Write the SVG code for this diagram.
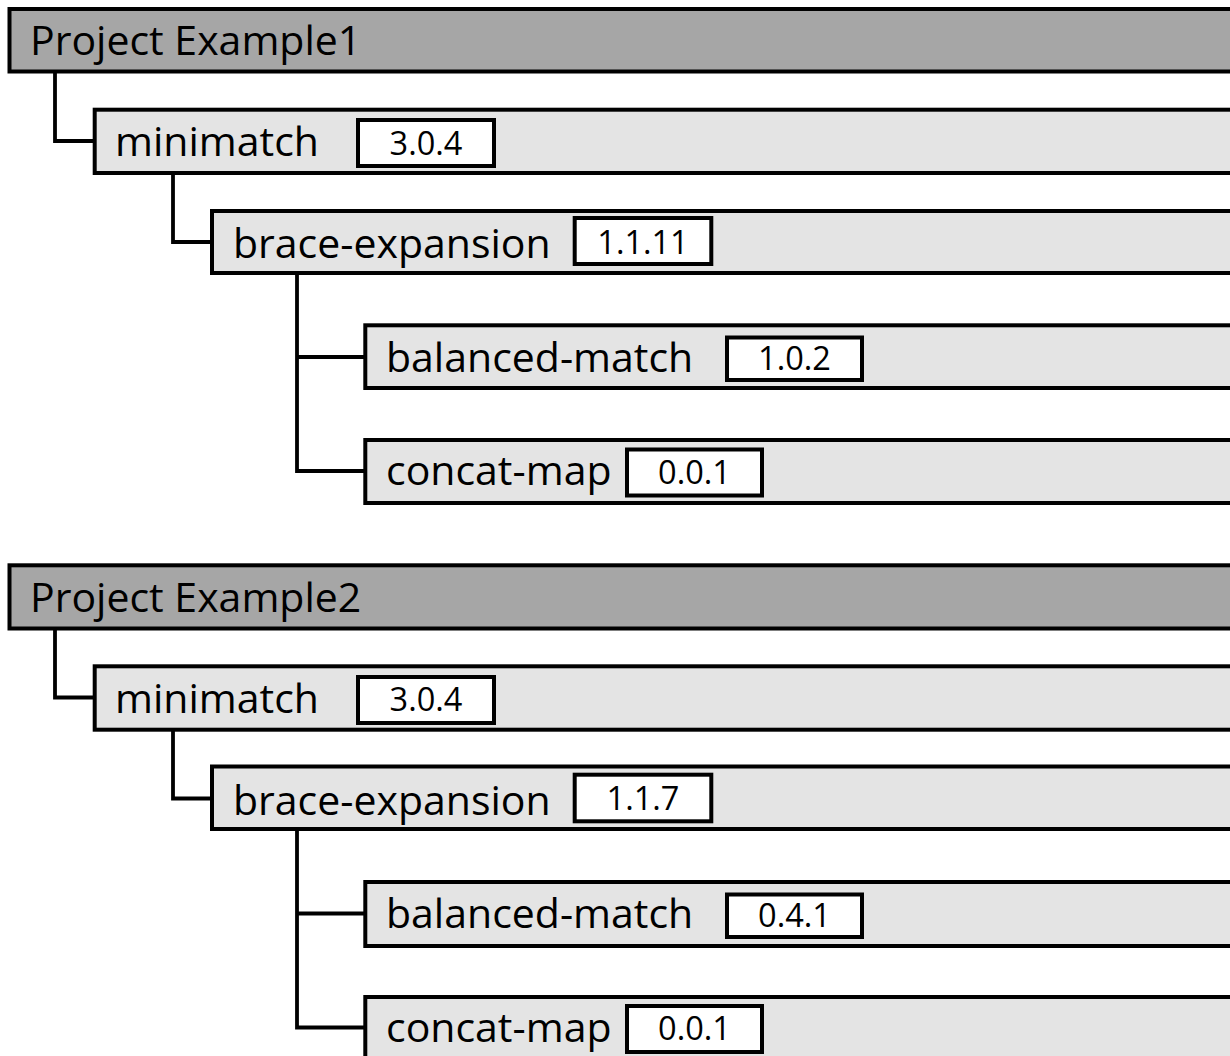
<svg xmlns="http://www.w3.org/2000/svg" width="1230" height="1056" viewBox="0 0 1230 1056">
  <style>
    .root { fill: #a6a6a6; stroke: #000; stroke-width: 4; }
    .dep { fill: #e4e4e4; stroke: #000; stroke-width: 4; }
    .ver { fill: #fff; stroke: #000; stroke-width: 4; }
    .lbl { font-family: "Open Sans", "Noto Sans", "Liberation Sans", sans-serif; font-size: 41px; fill: #000; }
    .vt { font-family: "Open Sans", "Noto Sans", "Liberation Sans", sans-serif; font-size: 32.5px; fill: #000; text-anchor: middle; }
    .conn { fill: none; stroke: #000; stroke-width: 3.8; }
  </style>
  <rect width="1230" height="1056" fill="#fff"/>
  <g id="connectors" class="conn">
    <path d="M55 71 V141 H95"/>
    <path d="M173 173 V242 H212"/>
    <path d="M297 273 V471 H365"/>
    <path d="M297 357 H365"/>
    <path d="M55 627 V697.5 H95"/>
    <path d="M173 729 V798.5 H212"/>
    <path d="M297 829 V1027.5 H365"/>
    <path d="M297 913.5 H365"/>
  </g>
  <g id="project1">
    <rect class="root" x="9.5" y="9" width="1240" height="62.5"/>
    <text class="lbl" x="30" y="55">Project Example1</text>
  </g>
  <g id="minimatch1">
    <rect class="dep" x="94.7" y="109.7" width="1200" height="63.3"/>
    <text class="lbl" x="115" y="156">minimatch</text>
    <rect class="ver" x="358" y="120" width="136" height="46"/>
    <text class="vt" x="426" y="154.5">3.0.4</text>
  </g>
  <g id="brace-expansion1">
    <rect class="dep" x="212" y="211" width="1100" height="62"/>
    <text class="lbl" x="233" y="258">brace-expansion</text>
    <rect class="ver" x="574.7" y="218" width="136.6" height="46"/>
    <text class="vt" x="643" y="253.5">1.1.11</text>
  </g>
  <g id="balanced-match1">
    <rect class="dep" x="365.3" y="325.3" width="900" height="62.7"/>
    <text class="lbl" x="386" y="371.7">balanced-match</text>
    <rect class="ver" x="727" y="337.5" width="135" height="42.5"/>
    <text class="vt" x="794.5" y="370">1.0.2</text>
  </g>
  <g id="concat-map1">
    <rect class="dep" x="365.3" y="440" width="900" height="63"/>
    <text class="lbl" x="386" y="485">concat-map</text>
    <rect class="ver" x="627" y="449.5" width="135" height="46"/>
    <text class="vt" x="694.5" y="483.5">0.0.1</text>
  </g>
  <g id="project2">
    <rect class="root" x="9.5" y="565.3" width="1240" height="63.2"/>
    <text class="lbl" x="30" y="611.5">Project Example2</text>
  </g>
  <g id="minimatch2">
    <rect class="dep" x="94.7" y="666.3" width="1200" height="63.4"/>
    <text class="lbl" x="115" y="712.5">minimatch</text>
    <rect class="ver" x="358" y="677" width="136" height="46"/>
    <text class="vt" x="426" y="711">3.0.4</text>
  </g>
  <g id="brace-expansion2">
    <rect class="dep" x="212" y="766.5" width="1100" height="62.5"/>
    <text class="lbl" x="233" y="814.5">brace-expansion</text>
    <rect class="ver" x="574.7" y="774.7" width="136.6" height="46.6"/>
    <text class="vt" x="643" y="810">1.1.7</text>
  </g>
  <g id="balanced-match2">
    <rect class="dep" x="365.3" y="882" width="900" height="64"/>
    <text class="lbl" x="386" y="928">balanced-match</text>
    <rect class="ver" x="727" y="894.5" width="135" height="42.5"/>
    <text class="vt" x="794.5" y="927">0.4.1</text>
  </g>
  <g id="concat-map2">
    <rect class="dep" x="365.3" y="997" width="900" height="63"/>
    <text class="lbl" x="386" y="1041.5">concat-map</text>
    <rect class="ver" x="627" y="1006" width="135" height="46"/>
    <text class="vt" x="694.5" y="1040">0.0.1</text>
  </g>
</svg>
